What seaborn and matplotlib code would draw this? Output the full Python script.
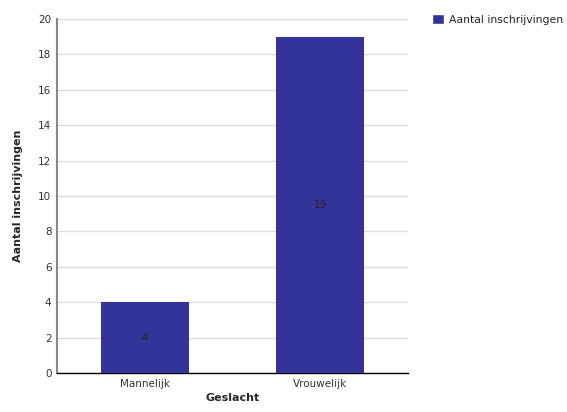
import pandas as pd
import seaborn as sns
import matplotlib.pyplot as plt
from matplotlib.patches import Patch

geslacht = ["Mannelijk", "Vrouwelijk"]
aantal = [4, 19]
series_name = "Aantal inschrijvingen"

df = pd.DataFrame({"Geslacht": geslacht, "Aantal": aantal})

sns.set_style("white")
plt.rcParams['font.family'] = ['DejaVu Sans']

fig = plt.figure(figsize=(5.67, 4.12), dpi=100)
ax = fig.add_axes([0.1005, 0.0947, 0.619, 0.859])

sns.barplot(data=df, x="Geslacht", y="Aantal", color="#333399", saturation=1,
            width=0.5, linewidth=0, ax=ax, zorder=3)

for c in ax.containers:
    for bar, v in zip(c, aantal):
        ax.text(bar.get_x() + bar.get_width() / 2, v / 2, str(v),
                ha="center", va="center", fontsize=7.5, color="#222222", zorder=4)

ax.set_ylim(0, 20)
ax.set_yticks(range(0, 21, 2))
ax.yaxis.grid(True, color="#dddddd", linewidth=1, zorder=0)
ax.tick_params(axis="both", length=0, labelsize=7.5, colors="#333333", pad=4)

for s in ["top", "right"]:
    ax.spines[s].set_visible(False)
ax.spines["left"].set_color("#888888")
ax.spines["left"].set_linewidth(1.5)
ax.spines["bottom"].set_color("#000000")
ax.spines["bottom"].set_linewidth(1)

ax.set_xlabel("Geslacht", fontsize=8, fontweight="bold", labelpad=3)
ax.set_ylabel("Aantal inschrijvingen", fontsize=8, fontweight="bold", labelpad=11)

fig.legend(handles=[Patch(facecolor="#333399", label=series_name)],
           loc="upper left", bbox_to_anchor=(0.745, 0.99), frameon=False,
           fontsize=7.8, handlelength=1.1, handleheight=1.1, handletextpad=0.5)

fig.savefig("out.png", dpi=100)
